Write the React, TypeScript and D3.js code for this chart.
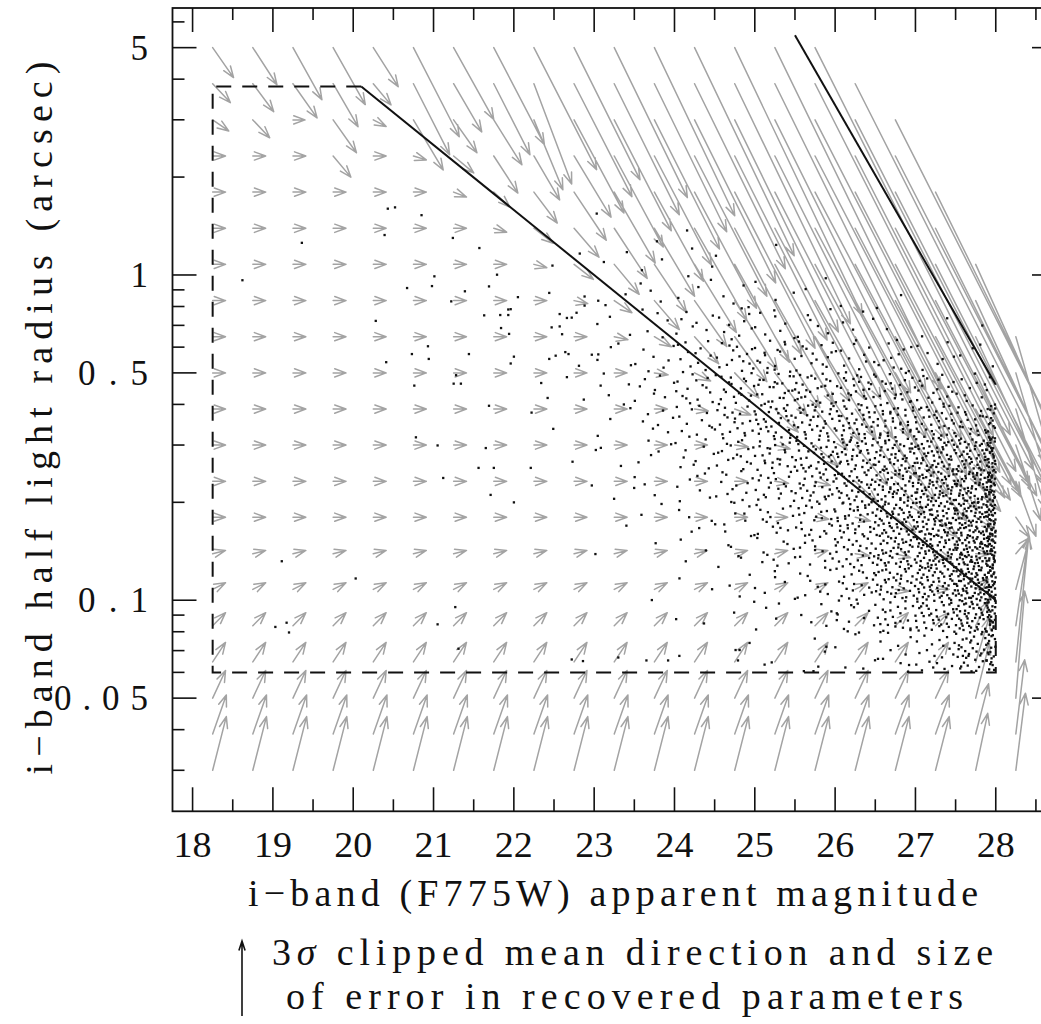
import React from "react";
import * as d3 from "d3";

const W = 1041;
const H = 1024;

// ---------- axes ----------
const magDomain = [17.75, 28.75];
const radiusDomain = [0.02244, 6.62];
const magTicks = [18, 19, 20, 21, 22, 23, 24, 25, 26, 27, 28];
const magMinorTicks = [18.5, 19.5, 20.5, 21.5, 22.5, 23.5, 24.5, 25.5, 26.5, 27.5, 28.5];
const radiusMajorTicks = [0.05, 0.1, 0.5, 1, 5];
const radiusMajorLabels = ["0.05", "0.1", "0.5", "1", "5"];
const radiusLabelWidths = [94, 70, 70, 0, 0];
const radiusMinorTicks = [0.03, 0.04, 0.06, 0.07, 0.08, 0.09, 0.2, 0.3, 0.4, 0.6, 0.7, 0.8, 0.9, 2, 3, 4, 6];

// ---------- reference lines ----------
const boxMagMin = 18.25;
const boxMagMax = 28;
const boxRadiusMin = 0.06;
const boxRadiusMax = 3.8;
const line1 = [[20.1, 3.8], [28, 0.1]];
const line2 = [[25.5, 5.46], [28, 0.46]];

// ---------- error-vector grid ----------
const gridMags = [18.25, 18.75, 19.25, 19.75, 20.25, 20.75, 21.25, 21.75, 22.25, 22.75, 23.25,
  23.75, 24.25, 24.75, 25.25, 25.75, 26.25, 26.75, 27.25, 27.75, 28.25];
const gridRadii = [5.0, 3.873, 2.998, 2.322, 1.798, 1.392, 1.078, 0.834, 0.646, 0.5, 0.387, 0.3,
  0.232, 0.18, 0.139, 0.108, 0.0835, 0.0646, 0.05, 0.0388, 0.03];

// mean error in magnitude, one array per grid column (rows top -> bottom)
const errMag: (number | null)[][] = [
  [.26, .22, .20, .16, .16, .16, .16, .16, .16, .16, .16, .16, .16, .16, .16, .16, .16, .16, .16, .17, .17],
  [.30, .26, .21, .16, .16, .16, .16, .16, .16, .16, .16, .16, .16, .16, .16, .16, .16, .16, .16, .17, .17],
  [.36, .30, .15, .16, .16, .16, .16, .16, .16, .16, .16, .16, .16, .16, .16, .16, .16, .16, .16, .17, .17],
  [.40, .31, .29, .22, .16, .16, .16, .16, .16, .16, .16, .16, .16, .16, .16, .16, .16, .16, .16, .17, .17],
  [.31, .22, .16, .16, .16, .16, .16, .16, .16, .16, .16, .16, .16, .16, .16, .16, .16, .16, .16, .17, .17],
  [.57, .45, .37, .16, .16, .16, .16, .16, .16, .16, .16, .16, .16, .16, .16, .16, .16, .16, .16, .17, .17],
  [.50, .35, .29, .25, .16, .16, .16, .16, .16, .16, .16, .16, .16, .16, .16, .16, .16, .16, .16, .17, .17],
  [.63, .45, .35, .30, .20, .16, .16, .16, .16, .16, .16, .16, .16, .16, .16, .16, .16, .16, .16, .17, .17],
  [.78, .47, .36, .32, .29, .24, .16, .16, .16, .16, .16, .16, .16, .16, .16, .16, .16, .16, .16, .17, .17],
  [.82, .72, .62, .46, .40, .31, .24, .17, .16, .16, .16, .16, .16, .16, .16, .16, .16, .16, .16, .17, .17],
  [.91, .81, .71, .61, .51, .41, .31, .22, .17, .16, .16, .16, .16, .16, .16, .16, .16, .16, .16, .17, .17],
  [1.0, .90, .81, .71, .61, .50, .40, .31, .21, .17, .16, .16, .16, .16, .16, .16, .16, .16, .16, .17, .17],
  [1.24, 1.13, 1.01, .90, .77, .65, .52, .40, .30, .20, .17, .16, .16, .16, .16, .16, .16, .16, .16, .17, .17],
  [1.59, 1.44, 1.29, 1.15, 1.0, .83, .68, .53, .40, .30, .20, .17, .16, .16, .16, .16, .16, .16, .16, .17, .17],
  [2.07, 1.88, 1.69, 1.51, 1.32, 1.12, .93, .73, .56, .40, .29, .19, .17, .16, .16, .16, .16, .16, .16, .17, .17],
  [2.43, 2.22, 2.02, 1.82, 1.61, 1.38, 1.17, .97, .76, .56, .40, .29, .19, .17, .16, .16, .16, .16, .16, .17, .17],
  [null, 2.39, 2.22, 2.0, 1.8, 1.59, 1.39, 1.18, .98, .77, .57, .40, .27, .19, .17, .16, .16, .16, .16, .17, .17],
  [null, null, 2.27, 2.07, 1.85, 1.66, 1.44, 1.24, 1.05, .83, .66, .49, .36, .25, .19, .17, .16, .16, .16, .17, .17],
  [null, null, null, null, 1.84, 1.64, 1.46, 1.26, 1.06, .86, .70, .52, .39, .27, .20, .17, .16, .16, .16, .17, .17],
  [null, null, null, null, null, null, 1.24, 1.06, .87, .68, .56, .43, .31, .22, .17, .16, .16, .17, .17, .16, .15],
  [null, null, null, null, null, null, null, null, .50, .44, .37, .31, .25, .17, .17, .17, .16, .16, .11, .11, .12],
];

// mean error in log10(radius), one array per grid column (rows top -> bottom)
const errLogR: (number | null)[][] = [
  [-.092, -.058, -.034, 0, 0, 0, 0, 0, 0, 0, 0, 0, 0, 0, .01, .02, .04, .06, .085, .12, .165],
  [-.114, -.086, -.055, 0, 0, 0, 0, 0, 0, 0, 0, 0, 0, 0, .01, .02, .04, .06, .085, .12, .165],
  [-.16, -.105, 0, 0, 0, 0, 0, 0, 0, 0, 0, 0, 0, 0, .01, .02, .04, .06, .085, .12, .165],
  [-.175, -.132, -.101, -.065, 0, 0, 0, 0, 0, 0, 0, 0, 0, 0, .01, .02, .04, .06, .085, .12, .165],
  [-.12, -.065, -.02, 0, 0, 0, 0, 0, 0, 0, 0, 0, 0, 0, .01, .02, .04, .06, .085, .12, .165],
  [-.274, -.218, -.154, -.012, 0, 0, 0, 0, 0, 0, 0, 0, 0, 0, .01, .02, .04, .06, .085, .12, .165],
  [-.221, -.148, -.101, -.052, -.015, 0, 0, 0, 0, 0, 0, 0, 0, 0, .01, .02, .04, .06, .085, .12, .165],
  [-.298, -.218, -.138, -.114, -.046, -.012, 0, 0, 0, 0, 0, 0, 0, 0, .01, .02, .04, .06, .085, .12, .165],
  [-.375, -.308, -.215, -.135, -.095, -.046, -.01, 0, 0, 0, 0, 0, 0, 0, .01, .02, .04, .06, .085, .12, .165],
  [-.406, -.347, -.286, -.188, -.148, -.089, -.046, -.009, 0, 0, 0, 0, 0, 0, .01, .02, .04, .06, .085, .12, .165],
  [-.461, -.403, -.341, -.28, -.218, -.154, -.092, -.037, -.009, 0, 0, 0, 0, 0, .01, .02, .04, .06, .085, .12, .165],
  [-.517, -.455, -.397, -.335, -.274, -.209, -.148, -.089, -.031, -.006, 0, 0, 0, 0, .01, .02, .04, .06, .085, .12, .165],
  [-.64, -.569, -.501, -.431, -.357, -.283, -.209, -.141, -.083, -.025, -.006, 0, 0, 0, .01, .02, .04, .06, .085, .12, .165],
  [-.824, -.738, -.652, -.566, -.48, -.387, -.301, -.212, -.138, -.077, -.018, -.006, 0, 0, .01, .02, .04, .06, .085, .12, .165],
  [-1.049, -.944, -.839, -.741, -.637, -.526, -.421, -.317, -.218, -.132, -.071, -.012, -.006, 0, .01, .02, .04, .06, .085, .12, .165],
  [-1.19, -1.082, -.972, -.867, -.756, -.643, -.532, -.424, -.314, -.209, -.126, -.065, -.012, -.006, .01, .02, .04, .06, .085, .12, .165],
  [null, -1.168, -1.076, -.969, -.861, -.753, -.646, -.538, -.431, -.323, -.215, -.123, -.062, -.012, -.006, .02, .04, .06, .085, .12, .165],
  [null, null, -1.107, -.999, -.892, -.784, -.677, -.569, -.461, -.354, -.261, -.169, -.101, -.046, -.012, -.006, .04, .06, .085, .12, .165],
  [null, null, null, null, -.923, -.815, -.707, -.6, -.492, -.384, -.292, -.2, -.123, -.062, -.018, 0, .04, .06, .085, .12, .165],
  [null, null, null, null, null, null, -.677, -.569, -.461, -.354, -.261, -.169, -.092, -.037, 0, .031, .077, .138, .169, .154, .175],
  [null, null, null, null, null, null, null, null, -.431, -.369, -.308, -.231, -.169, -.062, .049, .16, .274, .384, .329, .228, .237],
];

// ---------- individual (sparse) galaxies: [magnitude, log10 radius] ----------
const sparseGalaxies = [
  [20.43, .204], [20.52, .208], [20.85, .184], [20.39, .123], [19.36, .099], [21.24, .114], [21.57, .083],
  [22.82, .066], [23.12, .04], [22.48, .029], [18.62, -.016], [21.79, .001], [21.01, -.004], [20.67, -.04],
  [20.98, -.034], [21.39, -.05], [21.69, -.035], [22.05, -.068], [22.44, -.055], [22.88, -.066], [23.05, -.079],
  [22.88, -.094], [21.22, -.081], [21.93, -.106], [21.96, -.105], [21.63, -.124], [21.83, -.123], [21.93, -.123],
  [22.57, -.12], [22.66, -.132], [22.72, -.131], [22.78, -.116], [20.28, -.141], [22.47, -.161], [22.57, -.158],
  [21.84, -.163], [22.6, -.182], [21.94, -.181], [20.93, -.219], [20.73, -.243], [20.94, -.258], [21.44, -.243],
  [20.41, -.268], [22.0, -.251], [21.96, -.272], [22.44, -.258], [22.52, -.248], [22.64, -.237], [22.68, -.243],
  [22.97, -.245], [23.04, -.261], [22.81, -.279], [22.66, -.314], [22.34, -.332], [23.08, -.34], [20.76, -.34],
  [21.28, -.308], [21.25, -.334], [21.34, -.334], [22.42, -.378], [22.87, -.383], [21.69, -.402],
  [22.22, -.423], [22.49, -.473], [20.78, -.499], [21.05, -.524], [21.65, -.532], [23.02, -.538], [22.73, -.574],
  [21.56, -.593], [21.75, -.593], [22.21, -.593], [21.12, -.624], [22.97, -.647], [21.71, -.676], [22.0, -.699],
  [19.11, -.88], [20.03, -.933], [21.27, -1.021], [19.03, -1.082], [19.17, -1.069], [19.2, -1.099], [21.05, -1.074],
  [21.31, -1.149], [22.72, -1.182], [22.86, -1.187],
  [24.02, -1.058], [23.3, -1.176], [23.65, -1.185], [23.92, -1.185], [24.06, -1.171], [24.76, -1.153],
  [24.81, -1.153], [24.79, -1.185], [25.21, -1.191], [25.3, -1.01], [25.61, -1.218], [25.73, -1.218],
  [25.79, -1.204], [25.89, -1.143], [26.02, -1.04], [26.02, -1.061], [26.2, -1.015], [26.35, -1.21],
  [26.6, -1.094], [26.92, -1.199], [27.59, -1.171], [27.66, -1.171], [27.91, -1.166],
];

// ---------- dense region: galaxy counts per cell (0.5 mag x 0.1 dex) ----------
const densityMagBins = [23, 23.5, 24, 24.5, 25, 25.5, 26, 26.5, 27, 27.5];
const densityLogREdges = [0.2, 0.1, 0.0, -0.1, -0.2, -0.3, -0.4, -0.5, -0.6, -0.7, -0.8, -0.9, -1.0, -1.1, -1.22];
const densityCounts = [
  [1, 1, 1, 0, 0, 0, 0, 0, 0, 0],
  [1, 2, 2, 1, 1, 0, 0, 0, 0, 0],
  [2, 3, 4, 4, 3, 2, 1, 1, 0, 0],
  [3, 5, 7, 9, 8, 6, 4, 3, 2, 1],
  [4, 7, 12, 15, 15, 14, 12, 10, 7, 4],
  [4, 8, 14, 20, 24, 25, 25, 22, 18, 12],
  [3, 7, 12, 20, 28, 32, 34, 34, 32, 26],
  [2, 5, 10, 17, 25, 32, 40, 46, 50, 55],
  [2, 3, 7, 13, 20, 28, 38, 50, 60, 70],
  [1, 2, 5, 9, 15, 22, 34, 50, 65, 80],
  [1, 1, 3, 6, 10, 16, 28, 45, 65, 85],
  [0, 1, 2, 3, 6, 10, 20, 38, 55, 80],
  [0, 0, 1, 2, 3, 5, 11, 24, 38, 60],
  [0, 0, 0, 1, 1, 2, 4, 10, 20, 40],
];
// extra concentration right at the m = 28 limit (27.88 - 28)
const edgeStripeCounts = [0, 0, 0, 0, 0, 0, 10, 16, 18, 18, 18, 16, 14, 10];

const GRAY = "#a3a3a3";
const INK = "#111";
const FONT = "'Liberation Serif', 'Times New Roman', serif";

function arrowPath(x0: number, y0: number, x1: number, y1: number, head: number, ang: number) {
  const a = Math.atan2(y1 - y0, x1 - x0);
  const hx1 = x1 - head * Math.cos(a - ang);
  const hy1 = y1 - head * Math.sin(a - ang);
  const hx2 = x1 - head * Math.cos(a + ang);
  const hy2 = y1 - head * Math.sin(a + ang);
  return `M${x0},${y0}L${x1},${y1}M${hx1},${hy1}L${x1},${y1}L${hx2},${hy2}`;
}

// radical inverse (Halton) for even placement inside a counted cell
function halton(i: number, b: number) {
  let f = 1, r = 0;
  while (i > 0) {
    f = f / b;
    r = r + f * (i % b);
    i = Math.floor(i / b);
  }
  return r;
}

export default function App() {
  const x = d3.scaleLinear().domain(magDomain).range([172.5, 1056]);
  const y = d3.scaleLog().domain(radiusDomain).range([811.3, 8]);
  const left = x(magDomain[0]);
  const right = x(magDomain[1]);
  const top = y(radiusDomain[1]);
  const bottom = y(radiusDomain[0]);

  const arrows: string[] = [];
  gridMags.forEach((m, c) => {
    gridRadii.forEach((r, k) => {
      const dm = errMag[c][k];
      const dl = errLogR[c][k];
      if (dm === null || dl === null) return;
      const x0 = x(m), y0 = y(r);
      const x1 = x(m + dm), y1 = y(r * Math.pow(10, dl));
      arrows.push(arrowPath(x0, y0, x1, y1, 12, (20 * Math.PI) / 180));
    });
  });

  const dots: [number, number][] = [];
  sparseGalaxies.forEach(([m, lr]) => dots.push([x(m), y(Math.pow(10, lr))]));
  let n = 7;
  densityCounts.forEach((row, bi) => {
    const hi = densityLogREdges[bi];
    const lo = densityLogREdges[bi + 1];
    row.forEach((count, mi) => {
      const m0 = densityMagBins[mi];
      for (let j = 0; j < count; j++) {
        n += 1;
        const u = halton(n, 2);
        const v = halton(n, 3);
        dots.push([x(m0 + 0.5 * u), y(Math.pow(10, lo + (hi - lo) * v))]);
      }
    });
    const sc = edgeStripeCounts[bi];
    for (let j = 0; j < sc; j++) {
      n += 1;
      const u = halton(n, 2);
      const v = halton(n, 3);
      dots.push([x(27.88 + 0.115 * u), y(Math.pow(10, lo + (hi - lo) * v))]);
    }
  });

  const boxPath =
    `M${x(20.1)},${y(boxRadiusMax)}L${x(boxMagMin)},${y(boxRadiusMax)}` +
    `L${x(boxMagMin)},${y(boxRadiusMin)}L${x(boxMagMax)},${y(boxRadiusMin)}L${x(boxMagMax)},${y(0.1)}`;

  const line = d3.line<number[]>().x((d) => x(d[0])).y((d) => y(d[1]));

  return (
    <svg width={W} height={H} style={{ position: "absolute", left: 0, top: 0, background: "#fff" }}
      fontFamily={FONT}>
      <rect x={0} y={0} width={W} height={H} fill="#fff" />
      <path d={arrows.join("")} stroke={GRAY} strokeWidth={1.5} fill="none" strokeLinecap="round" strokeLinejoin="round" />
      <g fill={INK}>
        {dots.map((d, i) => (
          <rect key={i} x={d[0] - 1.1} y={d[1] - 1.1} width={2.3} height={2.3} />
        ))}
      </g>
      <path d={boxPath} stroke={INK} strokeWidth={2} fill="none" strokeDasharray="15 11" />
      <path d={line(line1) || ""} stroke={INK} strokeWidth={2} fill="none" />
      <path d={line(line2) || ""} stroke={INK} strokeWidth={2} fill="none" />

      <rect x={left} y={top} width={right - left} height={bottom - top} fill="none" stroke={INK} strokeWidth={1.8} />
      <g stroke={INK} strokeWidth={1.6}>
        {magTicks.map((t) => (
          <g key={"xt" + t}>
            <line x1={x(t)} x2={x(t)} y1={bottom} y2={bottom - 24} />
            <line x1={x(t)} x2={x(t)} y1={top} y2={top + 24} />
          </g>
        ))}
        {magMinorTicks.map((t) => (
          <g key={"xm" + t}>
            <line x1={x(t)} x2={x(t)} y1={bottom} y2={bottom - 12} />
            <line x1={x(t)} x2={x(t)} y1={top} y2={top + 12} />
          </g>
        ))}
        {radiusMajorTicks.map((t) => (
          <g key={"yt" + t}>
            <line x1={left} x2={left + 24} y1={y(t)} y2={y(t)} />
            <line x1={right} x2={right - 24} y1={y(t)} y2={y(t)} />
          </g>
        ))}
        {radiusMinorTicks.map((t) => (
          <g key={"ym" + t}>
            <line x1={left} x2={left + 12} y1={y(t)} y2={y(t)} />
            <line x1={right} x2={right - 12} y1={y(t)} y2={y(t)} />
          </g>
        ))}
      </g>
      <g fill={INK} fontSize={35}>
        {magTicks.map((t) => (
          <text key={"xl" + t} x={x(t)} y={857} textAnchor="middle" textLength={38} lengthAdjust="spacingAndGlyphs">
            {String(t)}
          </text>
        ))}
        {radiusMajorTicks.map((t, i) => (
          <text key={"yl" + t} x={148} y={y(t) + 12} textAnchor="end"
            {...(radiusLabelWidths[i] ? { textLength: radiusLabelWidths[i], lengthAdjust: "spacing" } : {})}>
            {radiusMajorLabels[i]}
          </text>
        ))}
      </g>
      <g fill={INK} fontSize={38}>
        <text x={613} y={906} textAnchor="middle" textLength={730} lengthAdjust="spacing">
          i−band (F775W) apparent magnitude
        </text>
        <text transform="translate(52,418) rotate(-90)" textAnchor="middle" textLength={713} lengthAdjust="spacing">
          i−band half light radius (arcsec)
        </text>
      </g>
      <path d={arrowPath(242, 1016, 242, 941, 10, (18 * Math.PI) / 180)} stroke={INK} strokeWidth={1.6} fill="none" />
      <g fill={INK} fontSize={38}>
        <text x={272} y={965} textLength={721} lengthAdjust="spacing">
          3<tspan fontStyle="italic">σ</tspan> clipped mean direction and size
        </text>
        <text x={286} y={1009} textLength={677} lengthAdjust="spacing">
          of error in recovered parameters
        </text>
      </g>
    </svg>
  );
}
